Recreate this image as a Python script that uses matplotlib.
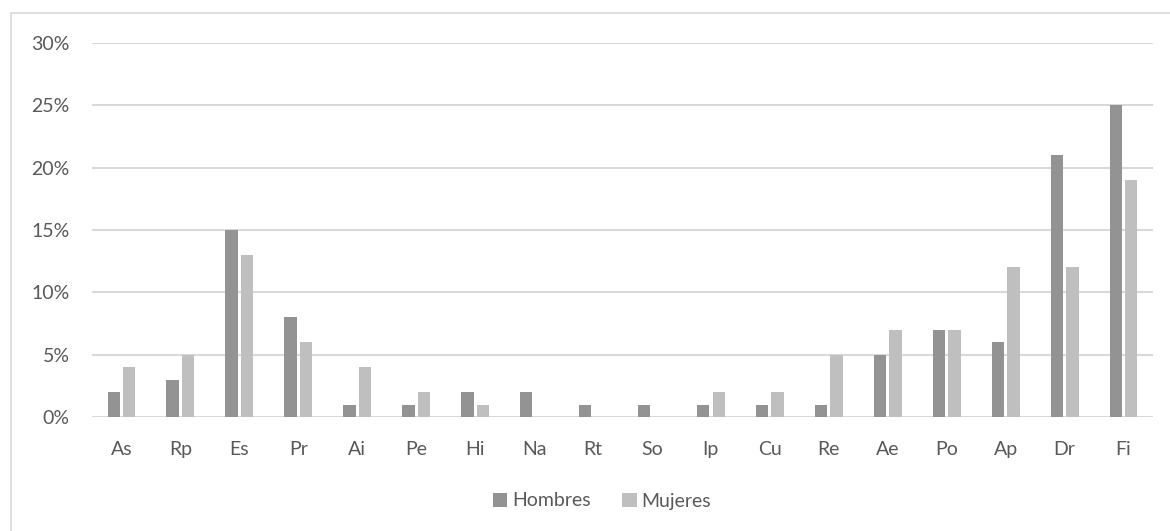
import matplotlib
matplotlib.use('Agg')
import matplotlib.pyplot as plt
import numpy as np
from matplotlib.patches import Rectangle

categorias = ['As', 'Rp', 'Es', 'Pr', 'Ai', 'Pe', 'Hi', 'Na', 'Rt', 'So',
              'Ip', 'Cu', 'Re', 'Ae', 'Po', 'Ap', 'Dr', 'Fi']
hombres = [2, 3, 15, 8, 1, 1, 2, 2, 1, 1, 1, 1, 1, 5, 7, 6, 21, 25]
mujeres = [4, 5, 13, 6, 4, 2, 1, 0, 0, 0, 2, 2, 5, 7, 7, 12, 12, 19]
yticks = [0, 5, 10, 15, 20, 25, 30]

matplotlib.rc('font', family=['Lato', 'DejaVu Sans'])

fig = plt.figure(figsize=(11.7, 5.31), dpi=100)
ax = fig.add_axes([92/1170, (531-417)/531, (1153-92)/1170, (417-43)/531])

x = np.arange(len(categorias))
w = 0.21
off = 0.132
ax.bar(x - off, hombres, w, color='#939393', label='Hombres', zorder=3)
ax.bar(x + off, mujeres, w, color='#bfbfbf', label='Mujeres', zorder=3)

ax.set_xlim(-0.5, len(categorias) - 0.5)
ax.set_ylim(0, 30)
ax.set_yticks(yticks)
ax.set_yticklabels(['%d%%' % v for v in yticks])
ax.set_xticks(x)
ax.set_xticklabels(categorias)
ax.tick_params(axis='both', length=0, labelsize=14, colors='#595959')
ax.tick_params(axis='y', pad=16)
ax.tick_params(axis='x', pad=17)
ax.grid(axis='y', color='#d9d9d9', linewidth=1.5, zorder=0)
for s in ax.spines.values():
    s.set_visible(False)

leg = fig.legend(loc='center', bbox_to_anchor=(602/1170, 1 - 501/531), ncol=2,
                 frameon=False, fontsize=14, handlelength=0.75, handleheight=0.75,
                 handletextpad=0.25, columnspacing=1.6)
for t in leg.get_texts():
    t.set_color('#595959')

# marco del grafico (derecha y abajo quedan fuera de la imagen)
fig.patches.append(Rectangle((11/1170, -0.05), 1.0, 1 - 13/531 + 0.05,
                             transform=fig.transFigure, fill=False,
                             edgecolor='#d9d9d9', linewidth=1.2))

plt.savefig('out.png', dpi=100)
